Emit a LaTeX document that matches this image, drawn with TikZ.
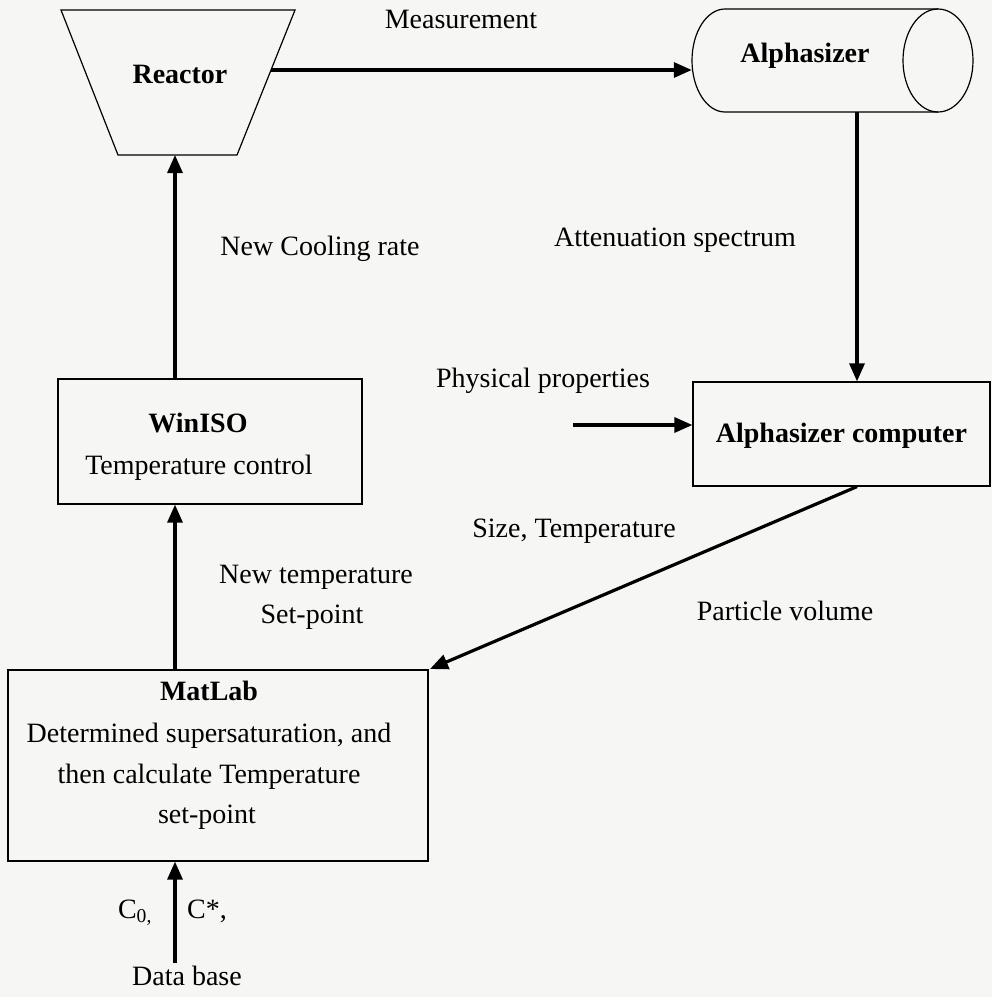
\documentclass[tikz,border=0pt]{standalone}
\usepackage{fontspec}
\setmainfont{Liberation Serif}
\usetikzlibrary{arrows.meta}
\definecolor{paper}{RGB}{246,246,244}
\begin{document}
\begin{tikzpicture}[x=1pt,y=-1pt,
  lbl/.style={font=\fontsize{28}{32}\selectfont, inner sep=0pt, anchor=base},
  title/.style={lbl, font=\fontsize{28}{32}\selectfont\bfseries},
  box/.style={draw, line width=1.2pt, inner sep=0pt},
  flow/.style={line width=3.2pt, -{Triangle[length=18pt,width=15pt]}},
  outline/.style={draw, line width=1.2pt}
]
% page
\fill[paper] (0,0) rectangle (992,997);
\useasboundingbox (0,0) rectangle (992,997);

% reactor vessel (inverted trapezium)
\coordinate (rTL) at (61,10);
\coordinate (rTR) at (295,10);
\coordinate (rBR) at (237,155);
\coordinate (rBL) at (118,155);
\draw[outline] (rTL) -- (rTR) -- (rBR) -- (rBL) -- cycle;
\node[title] (reactor) at (180,83) {Reactor};
\coordinate (reactorOut) at (271,70);
\coordinate (reactorIn) at (175,155);

% alphasizer cylinder
\node[inner sep=0pt, minimum width=281pt, minimum height=103pt] (alpha) at (832.5,60.5) {};
\draw[outline] (938,9) -- (725,9)
  .. controls (706.8,9) and (692,32.1) .. (692,60.5)
  .. controls (692,88.9) and (706.8,112) .. (725,112) -- (938,112);
\draw[outline] (938,60.5) ellipse [x radius=35, y radius=51.5];
\node[title] (alphaT) at (805,62) {Alphasizer};

% boxes
\node[box, minimum width=304pt, minimum height=125pt] (winiso) at (210,441.5) {};
\node[box, minimum width=420pt, minimum height=191pt] (matlab) at (218,765.5) {};
\node[box, minimum width=297pt, minimum height=104pt] (comp) at (841.5,434) {};

% box texts
\node[title] (winisoT) at (198,432) {WinISO};
\node[lbl] (winisoS) at (199,474) {Temperature control};
\node[title] (compT) at (841.5,442) {Alphasizer computer};
\node[title] (matlabT) at (209,700) {MatLab};
\node[lbl] (matlabA) at (209,742) {Determined supersaturation, and};
\node[lbl] (matlabB) at (209,783) {then calculate Temperature};
\node[lbl] (matlabC) at (207,823) {set-point};

% free labels
\node[lbl] (meas) at (461,28) {Measurement};
\node[lbl] (cool) at (320,255) {New Cooling rate};
\node[lbl] (atten) at (675,246) {Attenuation spectrum};
\node[lbl] (phys) at (543,387) {Physical properties};
\node[lbl] (size) at (574,537) {Size, Temperature};
\node[lbl] (partv) at (785,620) {Particle volume};
\node[lbl] (newt) at (316,583) {New temperature};
\node[lbl] (setp) at (312,623) {Set-point};
\node[lbl] (czero) at (135,918) {C\textsubscript{0,}};
\node[lbl] (cstar) at (207,918) {C*,};
\node[lbl] (dbase) at (187,985) {Data base};

% connector anchors
\coordinate (tap) at (857,0);
\coordinate (physIn) at (573,425);
\coordinate (dbOut) at (175,963);
\coordinate (mlCorner) at (430,669);

% connectors
\draw[flow] (reactorOut) -- (alpha.west |- reactorOut);
\draw[flow] (alpha.south -| tap) -- (comp.north -| tap);
\draw[flow] (physIn) -- (comp.west |- physIn);
\draw[flow] (comp.south -| tap) -- (mlCorner);
\draw[flow] (matlab.north -| reactorIn) -- (winiso.south -| reactorIn);
\draw[flow] (winiso.north -| reactorIn) -- (reactorIn);
\draw[flow] (dbOut) -- (matlab.south -| dbOut);
\end{tikzpicture}
\end{document}
